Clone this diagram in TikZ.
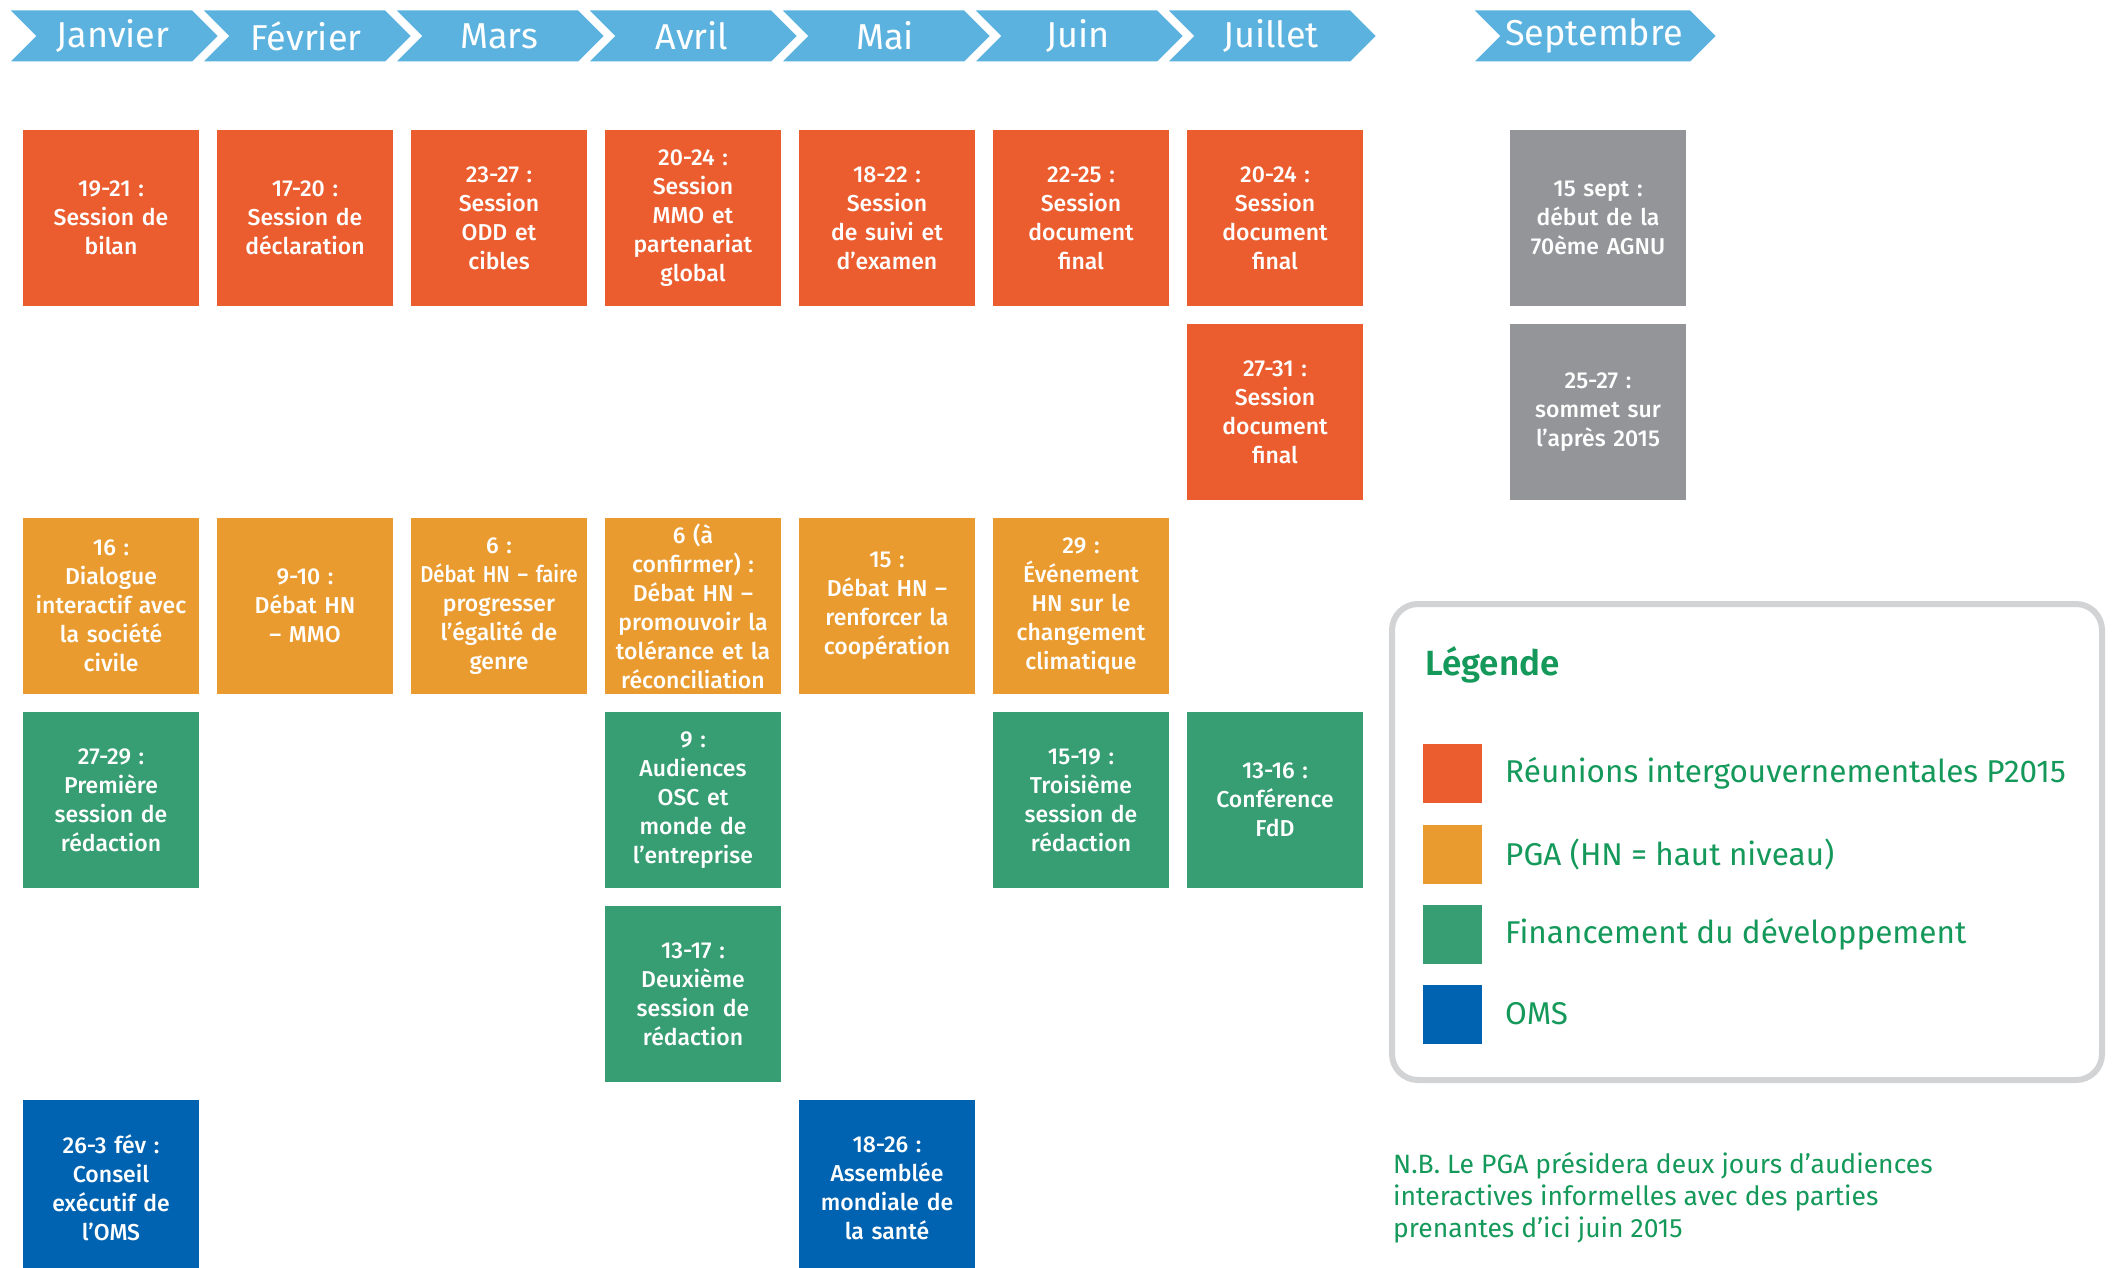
\documentclass[tikz,border=0pt]{standalone}
\usepackage{fontspec}
\IfFontExistsTF{Fira Sans Medium}
    {\setmainfont{Fira Sans Medium}[BoldFont={Fira Sans SemiBold}]
     \newfontfamily\serre{Fira Sans Medium}[FakeStretch=0.88]}
    {\setmainfont{Fira Sans}
     \newfontfamily\serre{Fira Sans}[FakeStretch=0.88]}
\newfontfamily\leger{Fira Sans}
\usetikzlibrary{shapes.symbols}

\definecolor{moisbleu}{HTML}{5BB2DF}
\definecolor{rouge}{HTML}{EB5C2E}
\definecolor{jaune}{HTML}{EA9B2F}
\definecolor{vert}{HTML}{379E73}
\definecolor{bleu}{HTML}{0063B1}
\definecolor{gris}{HTML}{939598}
\definecolor{grislegende}{HTML}{D2D3D5}
\definecolor{vertlegende}{HTML}{14995A}

\begin{document}
\begin{tikzpicture}[x=1pt,y=-1pt,
    mois/.style={signal, signal from=west, signal to=east, fill=moisbleu, draw=white, line width=5pt,
        minimum width=217pt, minimum height=56pt, inner sep=0pt, text=white, font=\leger\fontsize{36}{40}\selectfont},
    evt/.style={minimum width=176pt, minimum height=176pt, text width=174pt, align=center, inner sep=0pt,
        text=white, font=\fontsize{23}{29}\selectfont},
    p2015/.style={evt, fill=rouge},
    pga/.style={evt, fill=jaune},
    fdd/.style={evt, fill=vert},
    oms/.style={evt, fill=bleu},
    agnu/.style={evt, fill=gris},
    swatch/.style={minimum size=59pt, inner sep=0pt},
    legtext/.style={anchor=west, inner sep=0pt, text=vertlegende, font=\leger\fontsize{31.5}{38}\selectfont}]

        \useasboundingbox (0,0) rectangle (2112,1268);
        \clip (0,0) rectangle (2112,1268);

        % mois
        \node[mois] (janvier) at (113,36) {Janvier};
        \node[mois] (fevrier) at (306,36) {Février};
        \node[mois] (mars) at (499,36) {Mars};
        \node[mois] (avril) at (692,36) {Avril};
        \node[mois] (mai) at (885,36) {Mai};
        \node[mois] (juin) at (1078,36) {Juin};
        \node[mois] (juillet) at (1271,36) {Juillet};
        \node[mois, minimum width=251pt] (septembre) at (1594,36) {Septembre};

        % reunions P2015
        \node[p2015] (bilan) at (111,218) {19-21 :\\Session de\\bilan};
        \node[p2015] (declaration) at (305,218) {17-20 :\\Session de\\déclaration};
        \node[p2015] (odd) at (499,218) {23-27 :\\Session\\ODD et\\cibles};
        \node[p2015] (mmo) at (693,218) {20-24 :\\Session\\MMO et\\partenariat\\global};
        \node[p2015] (suivi) at (887,218) {18-22 :\\Session\\de suivi et\\d’examen};
        \node[p2015] (docjuin) at (1081,218) {22-25 :\\Session\\document\\final};
        \node[p2015] (docjuillet) at (1275,218) {20-24 :\\Session\\document\\final};
        \node[p2015] (docjuillet2) at (1275,412) {27-31 :\\Session\\document\\final};

        % AGNU
        \node[agnu] (agnu) at (1598,218) {15 sept :\\début de la\\70ème AGNU};
        \node[agnu] (sommet) at (1598,412) {25-27 :\\sommet sur\\l’après 2015};

        % PGA
        \node[pga] (dialogue) at (111,606) {16 :\\Dialogue\\interactif avec\\la société\\civile};
        \node[pga] (debatmmo) at (305,606) {9-10 :\\Débat HN\\– MMO};
        \node[pga] (egalite) at (499,606) {6 :\\{\serre Débat HN – faire}\\progresser\\l’égalité de\\genre};
        \node[pga] (tolerance) at (693,606) {6 (à\\confirmer) :\\Débat HN –\\promouvoir la\\tolérance et la\\réconciliation};
        \node[pga] (cooperation) at (887,606) {15 :\\Débat HN –\\renforcer la\\coopération};
        \node[pga] (climat) at (1081,606) {29 :\\Événement\\HN sur le\\changement\\climatique};

        % FdD
        \node[fdd] (redaction1) at (111,800) {27-29 :\\Première\\session de\\rédaction};
        \node[fdd] (audiences) at (693,800) {9 :\\Audiences\\OSC et\\monde de\\l’entreprise};
        \node[fdd] (redaction3) at (1081,800) {15-19 :\\Troisième\\session de\\rédaction};
        \node[fdd] (fdd) at (1275,800) {13-16 :\\Conférence\\FdD};
        \node[fdd] (redaction2) at (693,994) {13-17 :\\Deuxième\\session de\\rédaction};

        % OMS
        \node[oms] (conseil) at (111,1188) {26-3 fév :\\Conseil\\exécutif de\\l’OMS};
        \node[oms] (assemblee) at (887,1188) {18-26 :\\Assemblée\\mondiale de\\la santé};

        % legende
        \node[draw=grislegende, line width=6pt, rounded corners=26pt, minimum width=710pt, minimum height=476pt] (legende) at (1747,842) {};
        \node[anchor=west, inner sep=0pt, text=vertlegende, font=\fontsize{35}{40}\selectfont\bfseries] (titre) at (1425,665) {Légende};
        \node[swatch, fill=rouge] (cleP2015) at (1452,773) {};
        \node[swatch, fill=jaune] (clePga) at (1452,854) {};
        \node[swatch, fill=vert] (cleFdd) at (1452,934) {};
        \node[swatch, fill=bleu] (cleOms) at (1452,1014) {};
        \node[legtext] (txtP2015) at (1505,773) {Réunions intergouvernementales P2015};
        \node[legtext] (txtPga) at (1505,854) {PGA (HN = haut niveau)};
        \node[legtext] (txtFdd) at (1505,934) {Financement du développement};
        \node[legtext] (txtOms) at (1505,1014) {OMS};

        \node[anchor=west, align=left, inner sep=0pt, text=vertlegende, font=\leger\fontsize{26.5}{32}\selectfont] (nb) at (1393,1198)
            {N.B. Le PGA présidera deux jours d’audiences\\interactives informelles avec des parties\\prenantes d’ici juin 2015};

    \end{tikzpicture}
\end{document}
